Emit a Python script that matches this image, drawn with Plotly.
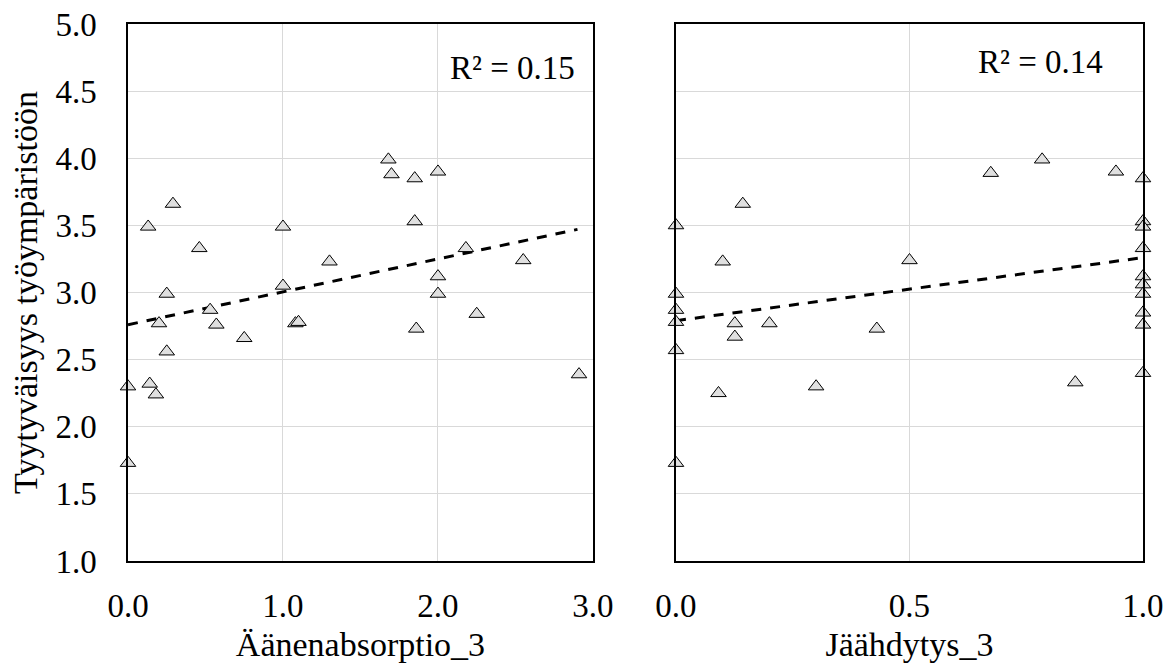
import plotly.graph_objects as go

# ---- data ----
absorption_x = [0.29, 0.13, 1.0, 0.46, 1.30, 1.0, 0.25, 0.53, 0.20, 0.57, 1.08, 1.10,
                0.75, 0.25, 0.0, 0.14, 0.18, 0.0, 1.68, 1.70, 1.85, 2.0, 1.85, 2.18,
                2.55, 2.0, 2.0, 2.25, 1.86, 2.91]
absorption_y = [3.66, 3.49, 3.49, 3.33, 3.23, 3.05, 2.99, 2.87, 2.77, 2.76, 2.77, 2.78,
                2.66, 2.56, 2.30, 2.32, 2.24, 1.73, 3.99, 3.88, 3.85, 3.90, 3.53, 3.33,
                3.24, 3.12, 2.99, 2.84, 2.73, 2.39]

cooling_x = [0.143, 0.0, 0.10, 0.50, 0.0, 0.0, 0.0, 0.126, 0.20, 0.43, 0.126, 0.0,
             0.30, 0.091, 0.0, 0.784, 0.674, 0.942, 1.0, 1.0, 1.0, 1.0, 1.0, 1.0,
             1.0, 1.0, 1.0, 1.0, 0.855]
cooling_y = [3.66, 3.50, 3.23, 3.24, 2.99, 2.87, 2.78, 2.77, 2.77, 2.73, 2.67, 2.57,
             2.30, 2.25, 1.73, 3.99, 3.89, 3.90, 3.85, 3.53, 3.49, 3.33, 3.12, 3.06,
             2.99, 2.85, 2.76, 2.40, 2.33]

trend1_x = [0.0, 2.9]
trend1_y = [2.76, 3.47]
trend2_x = [0.0, 1.0]
trend2_y = [2.79, 3.26]

r2_labels = ["R² = 0.15", "R² = 0.14"]
x_titles = ["Äänenabsorptio_3", "Jäähdytys_3"]
y_title = "Tyytyväisyys työympäristöön"
y_ticks = [1.0, 1.5, 2.0, 2.5, 3.0, 3.5, 4.0, 4.5, 5.0]
x1_ticks = [0.0, 1.0, 2.0, 3.0]
x2_ticks = [0.0, 0.5, 1.0]

FONT = "Liberation Serif"
marker = dict(symbol="triangle-up", size=13.5, color="#e0e0e0",
              line=dict(color="black", width=1))
trend_line = dict(color="black", width=3, dash="10px,9px")

fig = go.Figure()
fig.add_trace(go.Scatter(x=trend1_x, y=trend1_y, mode="lines", line=trend_line,
                         xaxis="x", yaxis="y", showlegend=False, hoverinfo="skip"))
fig.add_trace(go.Scatter(x=absorption_x, y=absorption_y, mode="markers", marker=marker,
                         xaxis="x", yaxis="y", showlegend=False, cliponaxis=False))
fig.add_trace(go.Scatter(x=trend2_x, y=trend2_y, mode="lines", line=trend_line,
                         xaxis="x2", yaxis="y2", showlegend=False, hoverinfo="skip"))
fig.add_trace(go.Scatter(x=cooling_x, y=cooling_y, mode="markers", marker=marker,
                         xaxis="x2", yaxis="y2", showlegend=False, cliponaxis=False))

grid = "#d9d9d9"
tickfont = dict(family=FONT, size=33, color="black")
titlefont = dict(family=FONT, size=34, color="black")

common_x = dict(showgrid=True, gridcolor=grid, gridwidth=1, zeroline=False,
                showline=True, linecolor="black", linewidth=1.5, mirror=True,
                ticks="", tickfont=tickfont, ticklabelstandoff=15, tickformat=".1f")
common_y = dict(showgrid=True, gridcolor=grid, gridwidth=1, zeroline=False,
                showline=True, linecolor="black", linewidth=1.5, mirror=True,
                ticks="", range=[1, 5], tickvals=y_ticks, tickformat=".1f")

fig.update_layout(
    width=1175, height=663,
    margin=dict(l=128, r=32, t=24, b=102, autoexpand=False),
    paper_bgcolor="white", plot_bgcolor="white",
    font=dict(family=FONT, color="black"),
    xaxis=dict(domain=[0.0, 0.4581], range=[0, 3], tickvals=x1_ticks, anchor="y",
               title=dict(text=x_titles[0], font=titlefont, standoff=11), **common_x),
    yaxis=dict(domain=[0.0, 1.0], anchor="x", tickfont=tickfont, ticklabelstandoff=23,
               title=dict(text=y_title, font=titlefont, standoff=8), **common_y),
    xaxis2=dict(domain=[0.5399, 1.0], range=[0, 1], tickvals=x2_ticks, anchor="y2",
                title=dict(text=x_titles[1], font=titlefont, standoff=11), **common_x),
    yaxis2=dict(domain=[0.0, 1.0], anchor="x2", showticklabels=False, **common_y),
)

fig.add_annotation(x=0.9656, y=0.918, xref="x domain", yref="y domain",
                   text=r2_labels[0], showarrow=False, xanchor="right", yanchor="middle",
                   font=dict(family=FONT, size=33, color="black"))
fig.add_annotation(x=0.9186, y=0.929, xref="x2 domain", yref="y2 domain",
                   text=r2_labels[1], showarrow=False, xanchor="right", yanchor="middle",
                   font=dict(family=FONT, size=33, color="black"))

fig.write_html("out.html", config={"displayModeBar": False},
               post_script="document.body.style.margin='0';")
